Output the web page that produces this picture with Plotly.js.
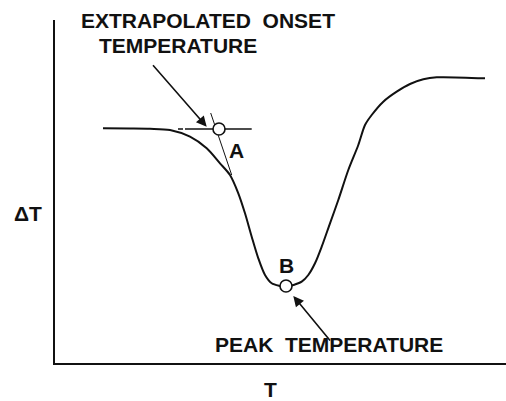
<!DOCTYPE html>
<html>
<head>
<meta charset="utf-8">
<script src="https://cdn.plot.ly/plotly-3.0.1.min.js"></script>
<style>html,body{margin:0;padding:0;background:#fff;}#chart{width:506px;height:401px;}</style>
</head>
<body>
<div id="chart"></div>
<script>
// DTA curve, arbitrary units
const curveT  = [48, 75, 95, 115, 135, 151.7, 165, 175, 183.3, 190, 196.7, 203.3, 210, 216.7, 225, 231, 238.3, 246.7, 253.3, 260, 266.7, 275, 283.3, 293.3, 303.3, 310, 316.7, 328.3, 341.7, 355, 368.3, 381.7, 430];
const curveDT = [234.7, 234.5, 234.2, 233, 226.3, 214.7, 199.7, 188, 169.7, 149.7, 126.3, 104.7, 88, 79.7, 77, 76, 78, 81.3, 88, 99.7, 116.3, 139.7, 163, 193, 218, 238, 248, 261.3, 271.3, 279, 283.7, 285.7, 284.7];

// extrapolated baseline and tangent
const baseT  = [130, 196.7];
const baseDT = [234, 234];
const baseDashT  = [123, 128];
const baseDashDT = [234, 234];
const tangentT  = [155.7, 176.7];
const tangentDT = [250, 188];

// points A (onset) and B (peak)
const pointT  = [164, 231];
const pointDT = [234, 77];
const pointLabels = ['A', 'B'];
const pointLabelT  = [181, 231];
const pointLabelDT = [213, 98];

const ink = '#111';
const font = {family: 'Liberation Sans, Arial, sans-serif', size: 21, color: ink, weight: 'bold'};

const traces = [
  {x: curveT, y: curveDT, mode: 'lines', line: {color: ink, width: 2, shape: 'spline', smoothing: 0.8}, hoverinfo: 'skip'},
  {x: baseT, y: baseDT, mode: 'lines', line: {color: ink, width: 1.5}, hoverinfo: 'skip'},
  {x: baseDashT, y: baseDashDT, mode: 'lines', line: {color: ink, width: 1.5}, hoverinfo: 'skip'},
  {x: tangentT, y: tangentDT, mode: 'lines', line: {color: ink, width: 1}, hoverinfo: 'skip'},
  {x: pointT, y: pointDT, mode: 'markers', marker: {symbol: 'circle', size: 12, color: '#fff', line: {color: ink, width: 1.6}}, hoverinfo: 'skip'}
];

const px2x = p => (p - 55) / 451;
const py2y = p => (363 - p) / 343;

const annotations = [
  {xref: 'paper', yref: 'paper', x: px2x(208), y: py2y(21), text: 'EXTRAPOLATED\u00a0\u00a0ONSET', showarrow: false, xanchor: 'center', yanchor: 'middle', font: font},
  {xref: 'paper', yref: 'paper', x: px2x(177.5), y: py2y(45), text: 'TEMPERATURE', showarrow: false, xanchor: 'center', yanchor: 'middle', font: font},
  {xref: 'paper', yref: 'paper', x: px2x(328.5), y: py2y(344.5), text: 'PEAK\u00a0\u00a0TEMPERATURE', showarrow: false, xanchor: 'center', yanchor: 'middle', font: font},
  {xref: 'paper', yref: 'paper', x: px2x(28), y: py2y(213), text: '\u0394T', showarrow: false, xanchor: 'center', yanchor: 'middle', font: font},
  {xref: 'paper', yref: 'paper', x: px2x(270), y: py2y(389.5), text: 'T', showarrow: false, xanchor: 'center', yanchor: 'middle', font: font},
  {x: pointLabelT[0], y: pointLabelDT[0], text: pointLabels[0], showarrow: false, xanchor: 'center', yanchor: 'middle', font: font},
  {x: pointLabelT[1], y: pointLabelDT[1], text: pointLabels[1], showarrow: false, xanchor: 'center', yanchor: 'middle', font: font},
  // arrows
  {x: 151.7, y: 236.3, ax: -55, ay: -63, text: '', showarrow: true, arrowhead: 2, arrowsize: 1.3, arrowwidth: 1.6, arrowcolor: ink},
  {x: 238.3, y: 67, ax: 38, ay: 46, text: '', showarrow: true, arrowhead: 2, arrowsize: 1.3, arrowwidth: 1.6, arrowcolor: ink}
];

const axisBase = {showline: true, linecolor: ink, linewidth: 2, showgrid: false, zeroline: false, showticklabels: false, ticks: '', fixedrange: true};

const layout = {
  width: 506, height: 401,
  margin: {l: 55, r: 0, t: 20, b: 38, pad: 0},
  paper_bgcolor: '#fff', plot_bgcolor: '#fff',
  showlegend: false,
  xaxis: Object.assign({range: [0, 451]}, axisBase),
  yaxis: Object.assign({range: [0, 343]}, axisBase),
  annotations: annotations
};

Plotly.newPlot('chart', traces, layout, {displayModeBar: false, staticPlot: true});
</script>
</body>
</html>
